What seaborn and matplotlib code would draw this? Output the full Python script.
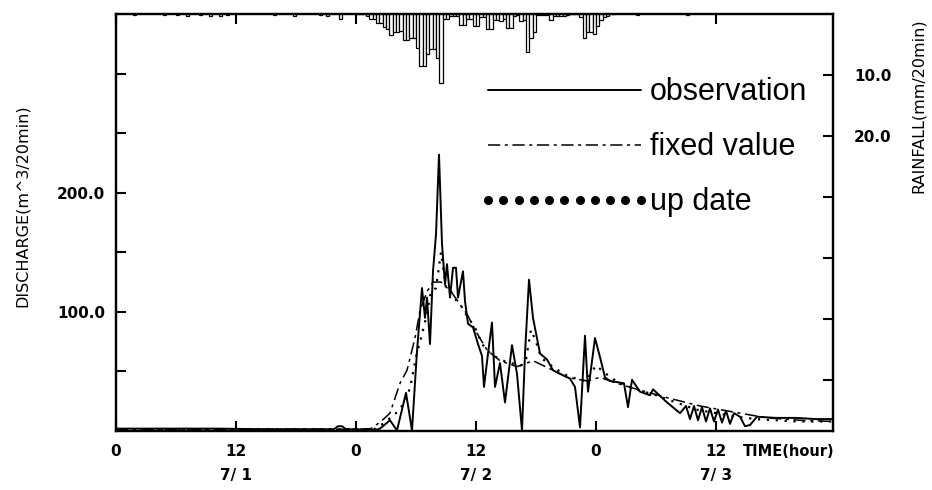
import numpy as np
import matplotlib
matplotlib.use("Agg")
import matplotlib.pyplot as plt
import seaborn as sns
from matplotlib.lines import Line2D

# observed discharge (m^3/20min) vs elapsed hour from 7/1 0:00
obs_hours = [0, 5, 10, 15, 20, 21.8, 22.2, 22.6, 23.0, 24, 25, 26, 26.4, 27.4, 28.1, 29.0, 29.6,
             30.1, 30.6, 30.9, 31.1, 31.4, 31.7, 32.0, 32.3, 32.6, 32.9, 33.1, 33.4, 33.7, 34.0,
             34.2, 34.7, 34.9, 35.2, 35.7, 36.2, 36.6, 36.8, 37.2, 37.6, 37.9, 38.4, 38.9, 39.6,
             40.1, 40.6, 40.9, 41.3, 41.7, 42.4, 43.1, 43.7, 44.4, 45.4, 45.9, 46.4, 46.9, 47.2,
             47.9, 48.4, 48.9, 49.4, 50.1, 50.8, 51.2, 51.6, 52.4, 53.4, 53.7, 55.1, 56.4, 57.0,
             57.4, 57.8, 58.2, 58.6, 59.0, 59.4, 59.8, 60.2, 60.6, 61.0, 61.4, 61.8, 62.4, 62.9,
             63.4, 64.1, 66, 68, 70, 71.7]
obs_q = [2, 2, 2, 1.5, 1.5, 1.5, 4, 4, 1.5, 1.5, 1, 1, 2, 9, 0.5, 32, 0.5,
         67, 120, 95, 112, 73, 134, 165, 232, 157, 123, 140, 112, 137, 137,
         112, 134, 109, 90, 87, 73, 63, 37, 65, 91, 37, 57, 24, 72,
         48, 0.5, 65, 127, 95, 65, 60, 51, 48, 44, 37, 3, 80, 33,
         78, 62, 45, 42, 41, 40, 20, 43, 33, 30, 35, 24, 15, 21,
         10, 21, 9, 20, 8, 19, 8, 18, 7, 17, 6, 15, 12, 4,
         5, 12, 11, 11, 10, 10]

# fixed-parameter prediction
fix_hours = [0, 20, 24, 25.5, 26.5, 27.4, 28.4, 29.1, 29.9, 30.4, 31.1, 31.7, 32.5, 33.5, 34.1,
             35.1, 36.1, 37.1, 38.4, 40.1, 41.7, 43.7, 45.1, 47.1, 48.4, 50.1, 51.7, 55.1, 58.4,
             61.7, 65.1, 68.4, 71.7]
fix_q = [1.5, 1.5, 1.5, 2, 8, 15, 40, 51, 78, 101, 117, 125, 125, 117, 110,
         98, 82, 68, 59, 54, 59, 51, 45, 42, 45, 40, 36, 28, 21,
         16, 11, 9, 8]

# updated-parameter prediction
upd_hours = [0, 20, 24, 25, 26, 27, 28, 29, 29.5, 30, 30.5, 31, 31.5, 32, 32.5, 33, 33.5, 34,
             34.5, 35, 36, 36.5, 37, 38, 39, 40, 40.5, 41, 41.5, 42, 42.5, 43, 44, 45, 46, 47,
             48, 49, 50, 52, 54, 56, 58, 60, 62, 64, 66, 68, 70, 71.7]
upd_q = [1.5, 1.5, 1.5, 0.5, 2, 8, 15, 25, 40, 62, 78, 95, 117, 120, 150, 120, 117, 110,
         105, 98, 85, 75, 68, 62, 58, 56, 55, 60, 85, 75, 62, 58, 52, 47, 44, 42,
         55, 48, 42, 35, 30, 24, 18, 15, 12, 10, 9, 8, 8, 8]

# rainfall (mm/20min)
early_rain_hours = [1.7, 4.7, 6.0, 7.0, 8.3, 9.3, 10.3, 11.0, 15.7, 17.7, 20.3, 21.0, 22.3, 52.0, 57.0]
early_rain_mm = [0.2, 0.2, 0.2, 0.3, 0.2, 0.3, 0.3, 0.2, 0.2, 0.3, 0.2, 0.3, 0.8, 0.2, 0.2]
storm_start = 24.0
storm_rain_mm = [
    0, 0, 0,
    0.4, 0.9, 0.9,
    1.5, 1.5, 2.2,
    2.5, 3.5, 3.0,
    3.0, 2.8, 4.2,
    4.2, 4.0, 4.0,
    5.5, 8.6, 8.6,
    6.5, 5.8, 5.8,
    7.2, 11.3, 0.9,
    0.8, 0.3, 0.3,
    0.3, 1.8, 1.8,
    0.8, 0.8, 1.9,
    1.9, 0.5, 0.5,
    2.4, 2.4, 1.0,
    1.0, 1.1, 0.8,
    2.3, 2.3, 0.3,
    0.2, 1.2, 1.0,
    6.2, 4.0, 3.0,
    0.2, 0.1, 0.2,
    0.1, 1.0, 0.3,
    0.4, 0.3, 0.4,
    0.2, 0, 0,
    0, 0.5, 4.0,
    3.0, 3.0, 3.2,
    2.0, 1.0, 0.5,
    0.3, 0, 0,
]

x_tick_hours = [0, 12, 24, 36, 48, 60]
x_tick_labels = ["0", "12\n7/ 1", "0", "12\n7/ 2", "0", "12\n7/ 3"]

sns.set_style("ticks")
plt.rcParams["font.family"] = ["DejaVu Sans"]
plt.rcParams.update({"text.color": "black", "axes.labelcolor": "black",
                     "xtick.color": "black", "ytick.color": "black", "axes.edgecolor": "black"})

fig = plt.figure(figsize=(9.32, 4.9), dpi=100)
ax = fig.add_axes([116 / 932, 1 - 431 / 490, 717 / 932, 417 / 490])

sns.lineplot(x=obs_hours, y=obs_q, ax=ax, color="black", linewidth=1.4, estimator=None, sort=False)
sns.lineplot(x=fix_hours, y=fix_q, ax=ax, color="black", linewidth=1.1, estimator=None, sort=False,
             linestyle=(0, (8, 3, 2, 3)))
sns.lineplot(x=upd_hours, y=upd_q, ax=ax, color="black", linewidth=1.6, estimator=None, sort=False,
             linestyle=(0, (1, 3)))

ax.set_xlim(0, 71.7)
ax.set_ylim(0, 350)
ax.set_xticks(x_tick_hours)
ax.set_xticklabels(x_tick_labels, linespacing=1.75, fontsize=11, fontweight="bold", va="top")
ax.set_yticks([50, 100, 150, 200, 250, 300])
ax.set_yticklabels(["", "100.0", "", "200.0", "", ""], fontsize=11, fontweight="bold")
ax.tick_params(axis="both", direction="in", length=7, width=1.5, top=True)
ax.tick_params(axis="x", pad=9)
ax.tick_params(axis="y", pad=8)
for s in ax.spines.values():
    s.set_linewidth(1.6)

ax.set_ylabel("DISCHARGE(m^3/20min)", fontsize=11.5)
ax.yaxis.set_label_coords(-0.12, 0.54)
ax.text(67.3, -0.03, "TIME(hour)", transform=ax.get_xaxis_transform(), ha="center", va="top",
        fontsize=10.5, fontweight="bold")

# rainfall hangs from the top on a reversed twin axis
ax2 = ax.twinx()
storm_hours = storm_start + np.arange(len(storm_rain_mm)) / 3
ax2.bar(storm_hours, storm_rain_mm, width=1 / 3, align="edge", color="white", edgecolor="black",
        linewidth=0.9)
ax2.bar(early_rain_hours, early_rain_mm, width=1 / 3, align="edge", color="white",
        edgecolor="black", linewidth=0.9)
ax2.set_ylim(68.4, 0)
ax2.set_yticks([10, 20, 30, 40, 50, 60])
ax2.set_yticklabels(["10.0", "20.0", "", "", "", ""], fontsize=11, fontweight="bold")
ax2.tick_params(axis="y", direction="in", length=7, width=1.5, pad=15)
ax2.set_ylabel("RAINFALL(mm/20min)", fontsize=11.5)
ax2.yaxis.set_label_coords(1.108, 0.78)
for s in ax2.spines.values():
    s.set_linewidth(1.6)

handles = [
    Line2D([], [], color="black", linewidth=1.4),
    Line2D([], [], color="black", linewidth=1.1, linestyle=(0, (8, 3, 2, 3))),
    Line2D([], [], color="black", linestyle="none", marker="o", markersize=5.5),
]
ax2.legend(handles, ["observation", "fixed value", "up date"], loc="upper left",
           bbox_to_anchor=(0.506, 0.848), frameon=False, handlelength=5.6,
           handletextpad=0.0, labelspacing=0.82, numpoints=11, borderpad=0, borderaxespad=0,
           prop={"family": "Liberation Sans", "size": 22})

fig.savefig("out.png", dpi=100)
